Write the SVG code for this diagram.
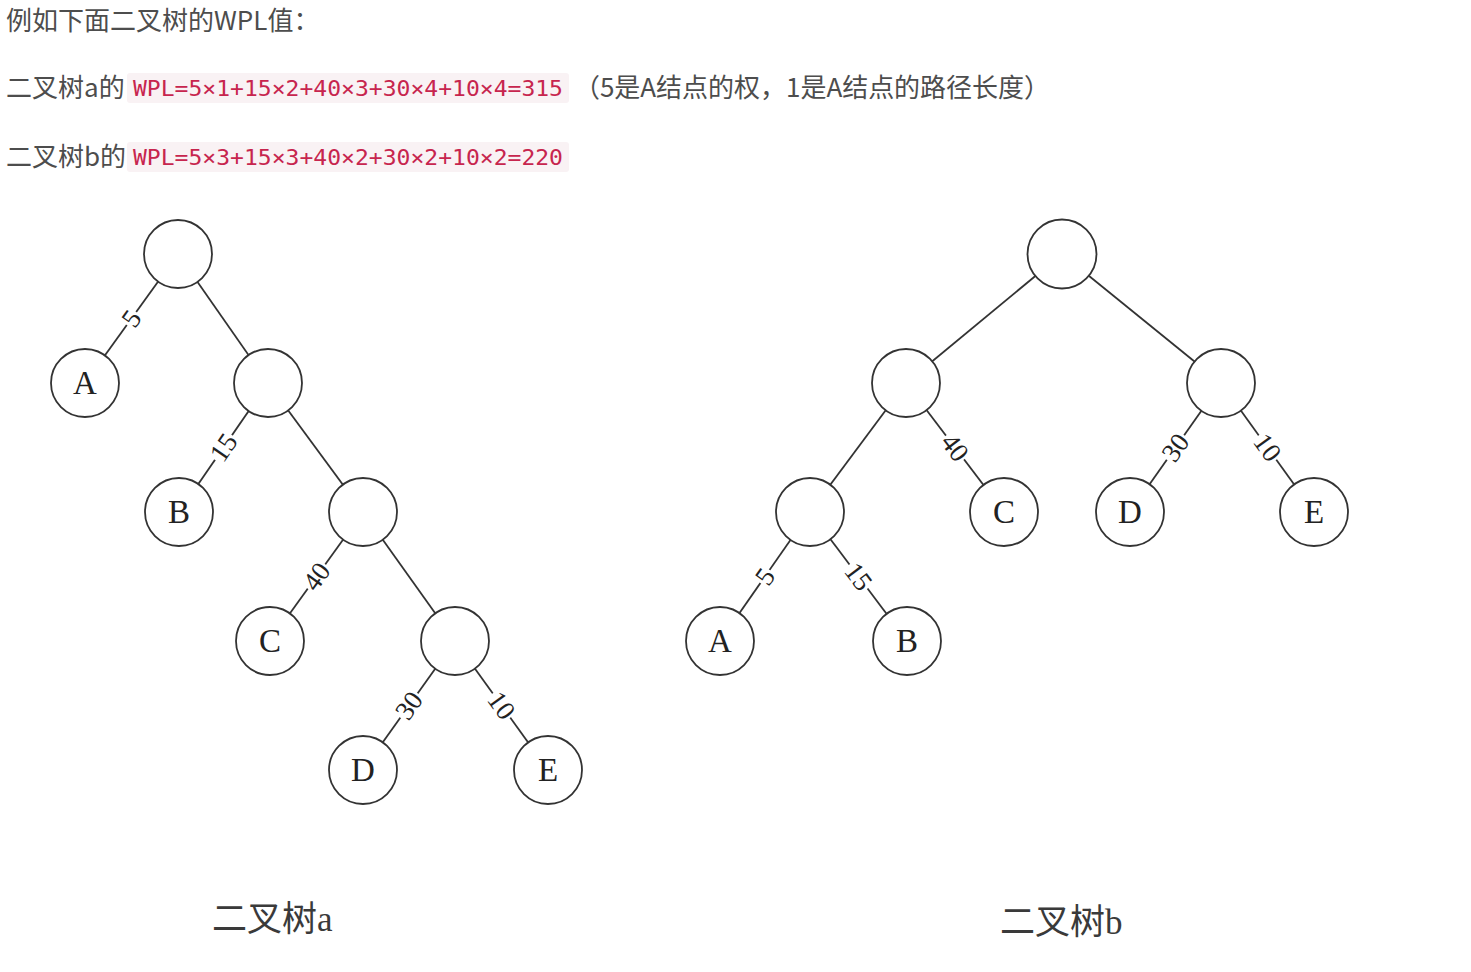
<svg xmlns="http://www.w3.org/2000/svg" width="1471" height="972" viewBox="0 0 1471 972">
<style>
.t{font-family:"Noto Sans CJK SC","Noto Sans",sans-serif;font-size:26px;fill:#4d4d4d}
.code{font-family:"DejaVu Sans Mono","Liberation Mono",monospace;font-size:22px;fill:#c7254e}
.cbg{fill:#f9f2f4}
.node circle{fill:#fff;stroke:#333;stroke-width:1.8}
.node text{font-family:"Liberation Serif","Times New Roman",serif;font-size:33px;fill:#222;text-anchor:middle}
.edges line{stroke:#333;stroke-width:1.8}
.lbl text{font-family:"Liberation Serif","Times New Roman",serif;font-size:27px;fill:#222;text-anchor:middle;dominant-baseline:central}
.lbl rect{fill:#fff}
.cap{font-family:"Liberation Serif","Noto Sans CJK SC",serif;font-size:35px;fill:#3a3a3a}
</style>
<rect width="1471" height="972" fill="#fff"/>
<g id="header">
<text class="t" x="6" y="30">例如下面二叉树的WPL值：</text>
<text class="t" x="6" y="97">二叉树a的</text>
<rect class="cbg" x="127" y="73" width="442" height="30" rx="3"/>
<text class="code" x="133" y="96" textLength="430" lengthAdjust="spacingAndGlyphs">WPL=5×1+15×2+40×3+30×4+10×4=315</text>
<text class="t" x="574" y="97" textLength="476" lengthAdjust="spacing">（5是A结点的权，1是A结点的路径长度）</text>
<text class="t" x="6" y="166">二叉树b的</text>
<rect class="cbg" x="127" y="142" width="442" height="30" rx="3"/>
<text class="code" x="133" y="165" textLength="430" lengthAdjust="spacingAndGlyphs">WPL=5×3+15×3+40×2+30×2+10×2=220</text>
</g>
<g id="connectors" class="edges">
<line x1="178" y1="254" x2="85" y2="383"/>
<line x1="178" y1="254" x2="268" y2="383"/>
<line x1="268" y1="383" x2="179" y2="512"/>
<line x1="268" y1="383" x2="363" y2="512"/>
<line x1="363" y1="512" x2="270" y2="641"/>
<line x1="363" y1="512" x2="455" y2="641"/>
<line x1="455" y1="641" x2="363" y2="770"/>
<line x1="455" y1="641" x2="548" y2="770"/>
<line x1="1062" y1="254" x2="906" y2="383"/>
<line x1="1062" y1="254" x2="1221" y2="383"/>
<line x1="906" y1="383" x2="810" y2="512"/>
<line x1="906" y1="383" x2="1004" y2="512"/>
<line x1="1221" y1="383" x2="1130" y2="512"/>
<line x1="1221" y1="383" x2="1314" y2="512"/>
<line x1="810" y1="512" x2="720" y2="641"/>
<line x1="810" y1="512" x2="907" y2="641"/>
<g class="lbl">
<g transform="translate(131.5,318.5) rotate(-54.2)"><rect x="-8" y="-8" width="16" height="16"/><text x="0" y="0">5</text></g>
<g transform="translate(223.5,447.5) rotate(-55.4)"><rect x="-15" y="-8" width="30" height="16"/><text x="0" y="0">15</text></g>
<g transform="translate(316.5,576.5) rotate(-54.2)"><rect x="-15" y="-8" width="30" height="16"/><text x="0" y="0">40</text></g>
<g transform="translate(409,705.5) rotate(-54.5)"><rect x="-15" y="-8" width="30" height="16"/><text x="0" y="0">30</text></g>
<g transform="translate(501.5,705.5) rotate(54.2)"><rect x="-15" y="-8" width="30" height="16"/><text x="0" y="0">10</text></g>
<g transform="translate(955,447.5) rotate(52.8)"><rect x="-15" y="-8" width="30" height="16"/><text x="0" y="0">40</text></g>
<g transform="translate(1175.5,447.5) rotate(-54.8)"><rect x="-15" y="-8" width="30" height="16"/><text x="0" y="0">30</text></g>
<g transform="translate(1267.5,447.5) rotate(54.2)"><rect x="-15" y="-8" width="30" height="16"/><text x="0" y="0">10</text></g>
<g transform="translate(765,576.5) rotate(-55)"><rect x="-8" y="-8" width="16" height="16"/><text x="0" y="0">5</text></g>
<g transform="translate(858.5,576.5) rotate(53)"><rect x="-15" y="-8" width="30" height="16"/><text x="0" y="0">15</text></g>
</g>
</g>
<g id="treeA">
<g id="a-root" class="node"><circle cx="178" cy="254" r="34"/></g>
<g id="a-A" class="node"><circle cx="85" cy="383" r="34"/><text x="85" y="394">A</text></g>
<g id="a-n1" class="node"><circle cx="268" cy="383" r="34"/></g>
<g id="a-B" class="node"><circle cx="179" cy="512" r="34"/><text x="179" y="523">B</text></g>
<g id="a-n2" class="node"><circle cx="363" cy="512" r="34"/></g>
<g id="a-C" class="node"><circle cx="270" cy="641" r="34"/><text x="270" y="652">C</text></g>
<g id="a-n3" class="node"><circle cx="455" cy="641" r="34"/></g>
<g id="a-D" class="node"><circle cx="363" cy="770" r="34"/><text x="363" y="781">D</text></g>
<g id="a-E" class="node"><circle cx="548" cy="770" r="34"/><text x="548" y="781">E</text></g>
<text id="capA" class="cap" x="212" y="931">二叉树a</text>
</g>
<g id="treeB">
<g id="b-root" class="node"><circle cx="1062" cy="254" r="34.5"/></g>
<g id="b-L" class="node"><circle cx="906" cy="383" r="34"/></g>
<g id="b-R" class="node"><circle cx="1221" cy="383" r="34"/></g>
<g id="b-LL" class="node"><circle cx="810" cy="512" r="34"/></g>
<g id="b-C" class="node"><circle cx="1004" cy="512" r="34"/><text x="1004" y="523">C</text></g>
<g id="b-D" class="node"><circle cx="1130" cy="512" r="34"/><text x="1130" y="523">D</text></g>
<g id="b-E" class="node"><circle cx="1314" cy="512" r="34"/><text x="1314" y="523">E</text></g>
<g id="b-A" class="node"><circle cx="720" cy="641" r="34"/><text x="720" y="652">A</text></g>
<g id="b-B" class="node"><circle cx="907" cy="641" r="34"/><text x="907" y="652">B</text></g>
<text id="capB" class="cap" x="1000" y="934">二叉树b</text>
</g>
</svg>
